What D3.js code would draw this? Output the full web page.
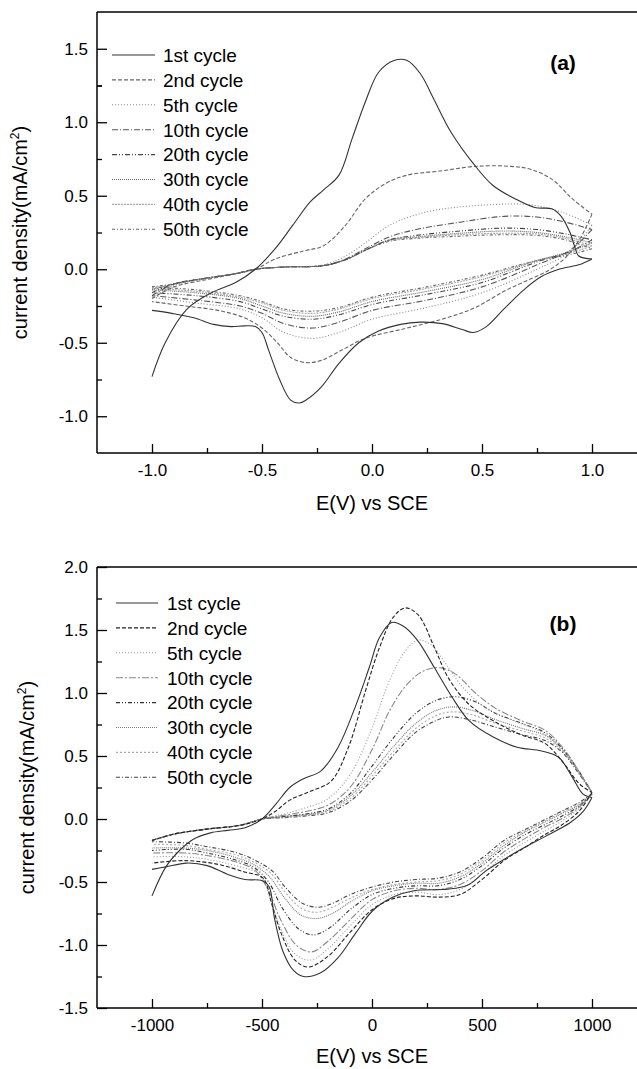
<!DOCTYPE html>
<html>
<head>
<meta charset="utf-8">
<script src="https://cdn.jsdelivr.net/npm/d3@7"></script>
<style>
body { margin: 0; background: #fff; }
svg { display: block; font-family: "Liberation Sans", Arial, sans-serif; }
</style>
</head>
<body>
<div class="chart"></div>
<script>
const cycles = ["1st cycle", "2nd cycle", "5th cycle", "10th cycle", "20th cycle", "30th cycle", "40th cycle", "50th cycle"];

// panel (a): E in V, j in mA/cm2
const xTicksA = [-1.0, -0.5, 0.0, 0.5, 1.0];
const xLabelsA = ["-1.0", "-0.5", "0.0", "0.5", "1.0"];
const yTicksA = [-1.0, -0.5, 0.0, 0.5, 1.0, 1.5];
const yLabelsA = ["-1.0", "-0.5", "0.0", "0.5", "1.0", "1.5"];

const aUpper = [
  [[-1.0,-0.73],[-0.94,-0.5],[-0.84,-0.27],[-0.73,-0.16],[-0.62,-0.09],[-0.53,0],[-0.44,0.14],[-0.36,0.3],[-0.28,0.46],[-0.22,0.54],[-0.15,0.64],[-0.09,0.89],[-0.03,1.14],[0.03,1.34],[0.10,1.42],[0.16,1.42],[0.22,1.33],[0.28,1.16],[0.36,0.93],[0.46,0.72],[0.55,0.57],[0.65,0.48],[0.74,0.42],[0.82,0.41],[0.86,0.36],[0.90,0.25],[0.92,0.16],[0.94,0.09],[1.0,0.07]],
  [[-1.0,-0.2],[-0.9,-0.12],[-0.75,-0.07],[-0.62,-0.03],[-0.53,0.0],[-0.44,0.07],[-0.31,0.125],[-0.22,0.16],[-0.12,0.3],[-0.03,0.48],[0.07,0.59],[0.16,0.64],[0.32,0.67],[0.47,0.70],[0.63,0.70],[0.72,0.68],[0.82,0.61],[0.91,0.48],[1.0,0.375]],
  [[-1.0,-0.19],[-0.9,-0.11],[-0.75,-0.06],[-0.62,-0.03],[-0.53,0.0],[-0.4,0.015],[-0.22,0.03],[-0.12,0.09],[-0.03,0.18],[0.08,0.3],[0.2,0.37],[0.32,0.41],[0.55,0.44],[0.71,0.44],[0.86,0.39],[1.0,0.3]],
  [[-1.0,-0.18],[-0.9,-0.1],[-0.75,-0.06],[-0.62,-0.03],[-0.53,0.0],[-0.4,0.015],[-0.22,0.025],[-0.12,0.07],[-0.03,0.14],[0.08,0.22],[0.2,0.27],[0.4,0.32],[0.6,0.36],[0.75,0.355],[0.88,0.32],[1.0,0.27]],
  [[-1.0,-0.16],[-0.9,-0.1],[-0.75,-0.06],[-0.62,-0.03],[-0.53,0.0],[-0.4,0.015],[-0.22,0.025],[-0.12,0.065],[-0.03,0.13],[0.08,0.2],[0.2,0.23],[0.4,0.26],[0.6,0.28],[0.75,0.27],[0.88,0.24],[1.0,0.2]],
  [[-1.0,-0.14],[-0.9,-0.1],[-0.75,-0.06],[-0.62,-0.03],[-0.53,0.0],[-0.4,0.015],[-0.22,0.025],[-0.12,0.065],[-0.03,0.13],[0.08,0.2],[0.2,0.22],[0.4,0.245],[0.6,0.26],[0.75,0.25],[0.88,0.22],[1.0,0.18]],
  [[-1.0,-0.13],[-0.9,-0.1],[-0.75,-0.06],[-0.62,-0.03],[-0.53,0.0],[-0.4,0.015],[-0.22,0.025],[-0.12,0.065],[-0.03,0.13],[0.08,0.195],[0.2,0.215],[0.4,0.235],[0.6,0.245],[0.75,0.24],[0.88,0.21],[1.0,0.16]],
  [[-1.0,-0.12],[-0.9,-0.1],[-0.75,-0.06],[-0.62,-0.03],[-0.53,0.0],[-0.4,0.015],[-0.22,0.025],[-0.12,0.065],[-0.03,0.13],[0.08,0.19],[0.2,0.21],[0.4,0.225],[0.6,0.235],[0.75,0.23],[0.88,0.2],[1.0,0.14]]
];

const aLower = [
  [[1.0,0.07],[0.94,0.03],[0.85,0.0],[0.77,-0.05],[0.69,-0.14],[0.6,-0.27],[0.52,-0.39],[0.46,-0.43],[0.41,-0.41],[0.32,-0.37],[0.22,-0.36],[0.13,-0.375],[0.03,-0.42],[-0.06,-0.5],[-0.15,-0.64],[-0.23,-0.8],[-0.3,-0.89],[-0.33,-0.91],[-0.37,-0.89],[-0.42,-0.75],[-0.47,-0.55],[-0.5,-0.43],[-0.53,-0.39],[-0.58,-0.385],[-0.64,-0.39],[-0.72,-0.375],[-0.81,-0.33],[-0.91,-0.3],[-1.0,-0.28]],
  [[1.0,0.375],[0.95,0.22],[0.88,0.08],[0.8,-0.01],[0.7,-0.08],[0.6,-0.15],[0.47,-0.26],[0.34,-0.33],[0.16,-0.4],[-0.03,-0.47],[-0.15,-0.56],[-0.23,-0.62],[-0.3,-0.635],[-0.37,-0.6],[-0.43,-0.5],[-0.5,-0.4],[-0.58,-0.33],[-0.7,-0.28],[-0.85,-0.25],[-1.0,-0.22]],
  [[1.0,0.3],[0.9,0.12],[0.75,0.0],[0.5,-0.16],[0.25,-0.26],[0.0,-0.34],[-0.15,-0.43],[-0.27,-0.47],[-0.4,-0.43],[-0.5,-0.33],[-0.6,-0.27],[-0.8,-0.23],[-1.0,-0.19]],
  [[1.0,0.27],[0.9,0.13],[0.75,0.03],[0.5,-0.12],[0.25,-0.21],[0.0,-0.28],[-0.15,-0.36],[-0.27,-0.4],[-0.4,-0.37],[-0.5,-0.3],[-0.6,-0.25],[-0.8,-0.21],[-1.0,-0.18]],
  [[1.0,0.2],[0.9,0.12],[0.75,0.05],[0.5,-0.09],[0.25,-0.17],[0.0,-0.24],[-0.15,-0.31],[-0.27,-0.34],[-0.4,-0.32],[-0.5,-0.27],[-0.6,-0.22],[-0.8,-0.18],[-1.0,-0.16]],
  [[1.0,0.18],[0.9,0.12],[0.75,0.06],[0.5,-0.07],[0.25,-0.15],[0.0,-0.22],[-0.15,-0.29],[-0.27,-0.32],[-0.4,-0.3],[-0.5,-0.25],[-0.6,-0.2],[-0.8,-0.16],[-1.0,-0.14]],
  [[1.0,0.16],[0.9,0.11],[0.75,0.06],[0.5,-0.05],[0.25,-0.13],[0.0,-0.2],[-0.15,-0.27],[-0.27,-0.3],[-0.4,-0.28],[-0.5,-0.23],[-0.6,-0.19],[-0.8,-0.15],[-1.0,-0.13]],
  [[1.0,0.14],[0.9,0.1],[0.75,0.06],[0.5,-0.04],[0.25,-0.12],[0.0,-0.19],[-0.15,-0.26],[-0.27,-0.285],[-0.4,-0.27],[-0.5,-0.22],[-0.6,-0.18],[-0.8,-0.14],[-1.0,-0.12]]
];

// panel (b): E in mV
const xTicksB = [-1000, -500, 0, 500, 1000];
const xLabelsB = ["-1000", "-500", "0", "500", "1000"];
const yTicksB = [-1.5, -1.0, -0.5, 0.0, 0.5, 1.0, 1.5, 2.0];
const yLabelsB = ["-1.5", "-1.0", "-0.5", "0.0", "0.5", "1.0", "1.5", "2.0"];

const bUpper = [
  [[-1000,-0.61],[-937,-0.38],[-875,-0.25],[-812,-0.16],[-734,-0.11],[-655,-0.09],[-577,-0.07],[-500,0.0],[-436,0.12],[-374,0.25],[-311,0.32],[-233,0.38],[-154,0.57],[-76,0.89],[-13,1.2],[34,1.44],[89,1.56],[143,1.53],[206,1.42],[284,1.2],[363,0.97],[441,0.78],[551,0.65],[660,0.57],[770,0.54],[848,0.49],[911,0.33],[958,0.2],[1000,0.17]],
  [[-1000,-0.17],[-900,-0.12],[-750,-0.08],[-600,-0.05],[-500,0.0],[-440,0.06],[-374,0.15],[-280,0.22],[-186,0.3],[-107,0.57],[-29,1.02],[34,1.36],[96,1.6],[150,1.675],[210,1.62],[284,1.36],[347,1.12],[441,0.91],[551,0.78],[676,0.67],[786,0.6],[864,0.46],[942,0.28],[1000,0.21]],
  [[-1000,-0.17],[-900,-0.12],[-750,-0.08],[-600,-0.05],[-500,0.0],[-400,0.04],[-300,0.09],[-200,0.16],[-100,0.35],[0,0.72],[80,1.1],[150,1.33],[210,1.42],[270,1.38],[340,1.22],[420,1.03],[520,0.88],[640,0.78],[760,0.7],[850,0.58],[930,0.4],[1000,0.21]],
  [[-1000,-0.17],[-900,-0.12],[-750,-0.08],[-600,-0.05],[-500,0.0],[-400,0.03],[-300,0.06],[-200,0.11],[-100,0.25],[0,0.55],[80,0.86],[160,1.07],[240,1.18],[310,1.2],[380,1.15],[470,1.0],[560,0.88],[680,0.78],[790,0.7],[870,0.56],[940,0.38],[1000,0.21]],
  [[-1000,-0.17],[-900,-0.12],[-750,-0.08],[-600,-0.05],[-500,0.0],[-400,0.02],[-300,0.04],[-200,0.08],[-100,0.2],[0,0.42],[100,0.65],[200,0.84],[290,0.94],[380,0.97],[470,0.93],[560,0.84],[680,0.76],[790,0.68],[870,0.55],[940,0.38],[1000,0.21]],
  [[-1000,-0.17],[-900,-0.12],[-750,-0.08],[-600,-0.05],[-500,0.0],[-400,0.02],[-300,0.035],[-200,0.07],[-100,0.18],[0,0.37],[100,0.58],[200,0.76],[290,0.86],[370,0.89],[460,0.86],[560,0.79],[680,0.72],[790,0.66],[870,0.54],[940,0.37],[1000,0.21]],
  [[-1000,-0.17],[-900,-0.12],[-750,-0.08],[-600,-0.05],[-500,0.0],[-400,0.015],[-300,0.03],[-200,0.06],[-100,0.16],[0,0.34],[100,0.54],[200,0.72],[290,0.82],[360,0.85],[450,0.83],[560,0.76],[680,0.7],[790,0.64],[870,0.53],[940,0.37],[1000,0.21]],
  [[-1000,-0.17],[-900,-0.12],[-750,-0.08],[-600,-0.05],[-500,0.0],[-400,0.01],[-300,0.025],[-200,0.05],[-100,0.14],[0,0.31],[100,0.51],[200,0.69],[290,0.78],[350,0.81],[440,0.79],[560,0.73],[680,0.67],[790,0.62],[870,0.52],[940,0.36],[1000,0.21]]
];

const bLower = [
  [[1000,0.17],[960,0.06],[900,-0.03],[786,-0.14],[700,-0.22],[629,-0.29],[519,-0.41],[441,-0.52],[380,-0.55],[316,-0.56],[190,-0.57],[96,-0.62],[2,-0.73],[-76,-0.91],[-154,-1.1],[-233,-1.22],[-311,-1.25],[-358,-1.2],[-405,-1.05],[-444,-0.78],[-467,-0.54],[-499,-0.49],[-577,-0.48],[-655,-0.44],[-749,-0.37],[-843,-0.35],[-937,-0.38],[-1000,-0.4]],
  [[1000,0.21],[940,0.06],[860,-0.05],[780,-0.13],[700,-0.22],[600,-0.33],[500,-0.48],[400,-0.6],[300,-0.62],[200,-0.61],[100,-0.63],[0,-0.72],[-100,-0.9],[-200,-1.09],[-290,-1.175],[-350,-1.12],[-410,-0.92],[-455,-0.68],[-495,-0.47],[-580,-0.42],[-700,-0.36],[-850,-0.33],[-1000,-0.35]],
  [[1000,0.21],[940,0.08],[860,-0.02],[780,-0.1],[700,-0.18],[600,-0.29],[500,-0.44],[400,-0.56],[300,-0.6],[200,-0.58],[100,-0.6],[0,-0.68],[-100,-0.85],[-200,-1.03],[-280,-1.12],[-350,-1.07],[-415,-0.87],[-465,-0.62],[-510,-0.44],[-600,-0.38],[-750,-0.32],[-850,-0.3],[-1000,-0.3]],
  [[1000,0.2],[940,0.09],[860,0.0],[780,-0.07],[700,-0.15],[600,-0.26],[500,-0.41],[400,-0.52],[300,-0.56],[200,-0.55],[100,-0.57],[0,-0.64],[-100,-0.8],[-200,-0.97],[-275,-1.055],[-345,-1.0],[-415,-0.8],[-470,-0.57],[-530,-0.41],[-620,-0.34],[-750,-0.29],[-850,-0.27],[-1000,-0.27]],
  [[1000,0.2],[940,0.1],[860,0.02],[780,-0.05],[700,-0.12],[600,-0.23],[500,-0.37],[400,-0.48],[300,-0.53],[200,-0.53],[100,-0.55],[0,-0.6],[-100,-0.72],[-190,-0.86],[-265,-0.92],[-335,-0.87],[-410,-0.7],[-470,-0.5],[-540,-0.38],[-630,-0.32],[-750,-0.27],[-850,-0.24],[-1000,-0.25]],
  [[1000,0.2],[940,0.11],[860,0.04],[780,-0.03],[700,-0.1],[600,-0.21],[500,-0.35],[400,-0.46],[300,-0.51],[200,-0.51],[100,-0.53],[0,-0.57],[-100,-0.66],[-180,-0.75],[-255,-0.79],[-325,-0.76],[-400,-0.62],[-465,-0.46],[-540,-0.36],[-630,-0.3],[-750,-0.25],[-850,-0.23],[-1000,-0.23]],
  [[1000,0.2],[940,0.12],[860,0.05],[780,-0.02],[700,-0.09],[600,-0.19],[500,-0.33],[400,-0.44],[300,-0.49],[200,-0.5],[100,-0.52],[0,-0.56],[-100,-0.63],[-180,-0.7],[-250,-0.74],[-320,-0.71],[-395,-0.58],[-460,-0.43],[-540,-0.34],[-630,-0.28],[-750,-0.24],[-850,-0.21],[-1000,-0.2]],
  [[1000,0.2],[940,0.13],[860,0.06],[780,-0.01],[700,-0.08],[600,-0.17],[500,-0.31],[400,-0.42],[300,-0.47],[200,-0.48],[100,-0.5],[0,-0.54],[-100,-0.6],[-180,-0.67],[-245,-0.7],[-315,-0.67],[-390,-0.55],[-455,-0.41],[-540,-0.32],[-630,-0.26],[-750,-0.22],[-850,-0.19],[-1000,-0.18]]
];

// line looks per cycle
const stylesA = [
  { color: "#333", dash: null },
  { color: "#666", dash: "4,2" },
  { color: "#888", dash: "1,2" },
  { color: "#555", dash: "6,2,1,2" },
  { color: "#444", dash: "5,2,1,2,1,2" },
  { color: "#666", dash: "1,1" },
  { color: "#aaa", dash: "2,1" },
  { color: "#666", dash: "3,2,1,2" }
];
const stylesB = [
  { color: "#333", dash: null },
  { color: "#222", dash: "4,2" },
  { color: "#999", dash: "1,2" },
  { color: "#888", dash: "7,2,2,2" },
  { color: "#333", dash: "4,2,1,2,1,2" },
  { color: "#777", dash: "1,1" },
  { color: "#aaa", dash: "2,2" },
  { color: "#444", dash: "4,2,1,2" }
];

const W = 637, H = 1069;
const left = 97, right = 647;

const svg = d3.select(".chart").append("svg")
  .attr("width", W).attr("height", H);

function drawPanel(p) {
  const g = svg.append("g");
  const x = d3.scaleLinear().domain(p.xDomain).range([left, right]);
  const y = d3.scaleLinear().domain(p.yDomain).range([p.bottom, p.top]);

  // frame
  g.append("line").attr("x1", left).attr("x2", right).attr("y1", p.top).attr("y2", p.top)
    .attr("stroke", "#000").attr("stroke-width", 1.5);

  // x axis
  const minorX = d3.pairs(p.xTicks).map(d => (d[0] + d[1]) / 2);
  g.append("g").attr("transform", `translate(0,${p.bottom})`)
    .call(d3.axisBottom(x).tickValues(minorX).tickSize(-5).tickFormat(""))
    .call(a => a.select(".domain").remove())
    .call(a => a.selectAll("line").attr("stroke-width", 1.3));
  const xa = g.append("g").attr("transform", `translate(0,${p.bottom})`)
    .call(d3.axisBottom(x).tickValues(p.xTicks).tickSize(-9).tickPadding(11)
      .tickFormat((d, i) => p.xLabels[i]));
  xa.select(".domain").remove();
  xa.selectAll("line").attr("stroke-width", 1.3);
  xa.selectAll("text").attr("font-size", 17).attr("fill", "#000")
    .attr("font-family", "Liberation Sans, Arial, sans-serif");

  // y axis
  const minorY = d3.pairs(p.yTicks).map(d => (d[0] + d[1]) / 2).concat(p.yExtraMinor);
  g.append("g").attr("transform", `translate(${left},0)`)
    .call(d3.axisLeft(y).tickValues(minorY).tickSize(-5).tickFormat(""))
    .call(a => a.select(".domain").remove())
    .call(a => a.selectAll("line").attr("stroke-width", 1.3));
  const ya = g.append("g").attr("transform", `translate(${left},0)`)
    .call(d3.axisLeft(y).tickValues(p.yTicks).tickSize(-10).tickPadding(9)
      .tickFormat((d, i) => p.yLabels[i]));
  ya.select(".domain").remove();
  ya.selectAll("line").attr("stroke-width", 1.3);
  ya.selectAll("text").attr("font-size", 17).attr("fill", "#000")
    .attr("font-family", "Liberation Sans, Arial, sans-serif");

  g.append("line").attr("x1", left).attr("x2", left).attr("y1", p.top).attr("y2", p.bottom)
    .attr("stroke", "#000").attr("stroke-width", 1.5);
  g.append("line").attr("x1", left).attr("x2", right).attr("y1", p.bottom).attr("y2", p.bottom)
    .attr("stroke", "#000").attr("stroke-width", 1.5);

  // curves
  const line = d3.line().x(d => x(d[0])).y(d => y(d[1])).curve(d3.curveCatmullRom.alpha(0.5));
  const curves = g.append("g").attr("fill", "none");
  for (let k = cycles.length - 1; k >= 0; k--) {
    [p.upper[k], p.lower[k]].forEach(branch => {
      curves.append("path")
        .attr("d", line(branch))
        .attr("stroke", p.styles[k].color)
        .attr("stroke-width", 1.1)
        .attr("stroke-dasharray", p.styles[k].dash);
    });
  }

  // legend
  const lg = g.append("g");
  cycles.forEach((c, i) => {
    const ry = p.legY + i * 24.9;
    lg.append("line").attr("x1", p.legX[0]).attr("x2", p.legX[1]).attr("y1", ry).attr("y2", ry)
      .attr("stroke", p.styles[i].color).attr("stroke-width", 1.1)
      .attr("stroke-dasharray", p.styles[i].dash);
    lg.append("text").attr("x", p.legX[2]).attr("y", ry).attr("dy", "0.36em")
      .attr("font-size", 19).attr("fill", "#000").text(c);
  });

  // panel tag
  g.append("text").attr("x", 563).attr("y", p.tagY).attr("dy", "0.36em")
    .attr("text-anchor", "middle").attr("font-size", 21).attr("font-weight", "bold")
    .attr("fill", "#000").text(p.tag);

  // axis titles
  g.append("text").attr("x", 372).attr("y", p.xTitleY).attr("dy", "0.36em")
    .attr("text-anchor", "middle").attr("font-size", 20).attr("fill", "#000")
    .text("E(V) vs SCE");
  const yt = g.append("text")
    .attr("transform", `translate(${p.yTitleX},${(p.top + p.bottom) / 2}) rotate(-90)`)
    .attr("text-anchor", "middle").attr("font-size", 20).attr("fill", "#000");
  yt.append("tspan").text("current density(mA/cm");
  yt.append("tspan").attr("font-size", 12).attr("dy", -8).text("2");
  yt.append("tspan").attr("dy", 8).text(")");
}

drawPanel({
  top: 12, bottom: 453, xDomain: [-1.25, 1.25], yDomain: [-1.25, 1.75],
  xTicks: xTicksA, xLabels: xLabelsA, yTicks: yTicksA, yLabels: yLabelsA,
  yExtraMinor: [1.25],
  upper: aUpper, lower: aLower, styles: stylesA,
  legX: [112, 155, 163], legY: 55, tag: "(a)", tagY: 62,
  xTitleY: 503, yTitleX: 27
});

drawPanel({
  top: 567, bottom: 1008, xDomain: [-1250, 1250], yDomain: [-1.5, 2.0],
  xTicks: xTicksB, xLabels: xLabelsB, yTicks: yTicksB, yLabels: yLabelsB,
  yExtraMinor: [],
  upper: bUpper, lower: bLower, styles: stylesB,
  legX: [116, 158, 167], legY: 603, tag: "(b)", tagY: 623,
  xTitleY: 1056, yTitleX: 34
});
</script>
</body>
</html>
